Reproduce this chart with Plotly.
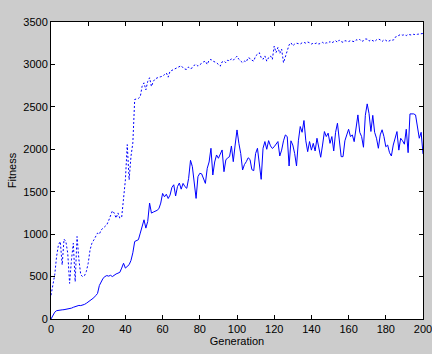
import plotly.graph_objects as go

generations = list(range(0, 201))

best_fitness = [
    280, 400, 520, 736, 874, 913, 638, 941, 913, 775,
    420, 697, 893, 440, 972, 700, 520, 500, 510, 560,
    657, 815, 893, 930, 972, 1012, 1000, 1051, 1070, 1090,
    1110, 1160, 1208, 1275, 1248, 1189, 1250, 1189, 1200, 1445,
    1640, 2055, 1640, 1917, 2075, 2587, 2590, 2600, 2620, 2744,
    2783, 2700, 2800, 2843, 2740, 2800, 2830, 2843, 2850, 2855,
    2862, 2880, 2900, 2850, 2920, 2930, 2940, 2950, 2960, 2975,
    2985, 2960, 2945, 2941, 2970, 2950, 2960, 2990, 3000, 2980,
    3000, 3020, 3030, 3039, 3000, 3050, 3059, 3040, 3030, 3020,
    3000, 2980, 3030, 3039, 3020, 3050, 3040, 3067, 3050, 3080,
    3098, 3060, 3040, 3020, 3039, 3030, 3080, 3070, 3050, 3039,
    3100, 3120, 3138, 3080, 3060, 3100, 3039, 3080, 3100, 3060,
    3216, 3140, 3200, 3130, 3180, 3020, 3100, 3180, 3230, 3256,
    3220, 3240, 3250, 3245, 3240, 3255, 3260, 3250, 3264, 3255,
    3240, 3250, 3245, 3255, 3240, 3250, 3260, 3245, 3255, 3250,
    3270, 3255, 3265, 3280, 3260, 3287, 3270, 3260, 3280, 3275,
    3270, 3280, 3275, 3268, 3290, 3285, 3295, 3270, 3280, 3300,
    3298, 3275, 3290, 3280, 3270, 3290, 3300, 3290, 3270, 3290,
    3285, 3268, 3275, 3290, 3285, 3320, 3330, 3340, 3354, 3345,
    3350, 3340, 3354, 3350, 3345, 3355, 3350, 3355, 3360, 3366,
    3365,
]

mean_fitness = [
    0, 45, 80, 98, 104, 106, 108, 110, 113, 118,
    122, 128, 138, 148, 153, 160, 158, 162, 172, 185,
    200, 216, 232, 250, 275, 300, 395, 440, 480, 500,
    512, 505, 515, 500, 520, 531, 540, 550, 600, 657,
    600, 620, 640, 690, 780, 913, 925, 935, 1012, 1100,
    1169, 1071, 1150, 1366, 1248, 1260, 1268, 1280, 1300, 1366,
    1480, 1440, 1470, 1420, 1460, 1550, 1582, 1450, 1560, 1602,
    1530, 1598, 1560, 1540, 1657, 1870, 1795, 1600, 1421, 1677,
    1717, 1710, 1640, 1598, 1776, 1850, 2012, 1697, 1850, 1933,
    1894, 1945, 1992, 1736, 1874, 1900, 1913, 2039, 1854, 2050,
    2228, 2071, 1950, 1756, 1820, 1854, 1900, 1880, 1760, 1748,
    1950, 2012, 1850, 1646, 2012, 2091, 2000, 2102, 2040, 2010,
    2030, 2060, 2091, 1921, 1990, 2100, 2169, 2150, 1803, 2100,
    2050, 1950, 1803, 2100, 2268, 2200, 2339, 2100, 1972, 2091,
    1990, 2070, 1980, 2130, 2020, 1906, 2050, 2209, 2150, 2190,
    2070, 2150, 1980, 2200, 2307, 2100, 1913, 1913, 2100, 2169,
    2236, 2150, 2169, 2090, 2236, 2405, 2200, 2150, 2024, 2400,
    2535, 2420, 2210, 2400, 2200, 2130, 2012, 2170, 2230, 2150,
    2030, 2050, 1960, 1921, 2050, 2150, 2209, 1990, 2130, 2100,
    2060, 2236, 1960, 2417, 2417, 2417, 2405, 2236, 2130, 2200,
    1945,
]

x_ticks = list(range(0, 201, 20))
y_ticks = list(range(0, 3501, 500))

fig = go.Figure()
fig.add_trace(go.Scatter(
    x=generations, y=best_fitness, mode="lines",
    line=dict(color="rgb(0,0,255)", width=1, dash="2px,2px"),
    showlegend=False,
))
fig.add_trace(go.Scatter(
    x=generations, y=mean_fitness, mode="lines",
    line=dict(color="rgb(0,0,255)", width=1),
    showlegend=False,
))

axis_common = dict(
    showgrid=False, zeroline=False, showline=True, linecolor="black",
    linewidth=1, mirror="ticks", ticks="inside", ticklen=4,
    tickcolor="black", automargin=False, ticklabeloverflow="allow",
    tickfont=dict(family="Liberation Sans, Arial", size=11, color="black"),
)

fig.update_layout(
    width=432, height=354,
    paper_bgcolor="rgb(204,204,204)", plot_bgcolor="white",
    margin=dict(l=51, r=9, t=22, b=35, pad=0),
    font=dict(family="Liberation Sans, Arial", size=11, color="black"),
    xaxis=dict(range=[0, 200], tickvals=x_ticks,
               title=dict(text="Generation", standoff=3, font=dict(color="black", size=11)),
               **axis_common),
    yaxis=dict(range=[0, 3500], tickvals=y_ticks,
               title=dict(text="Fitness", standoff=4, font=dict(color="black", size=11)),
               **axis_common),
)

fig.write_html(
    "out.html",
    config={"displayModeBar": False},
    post_script="document.body.style.margin='0';document.body.style.padding='0';",
)
